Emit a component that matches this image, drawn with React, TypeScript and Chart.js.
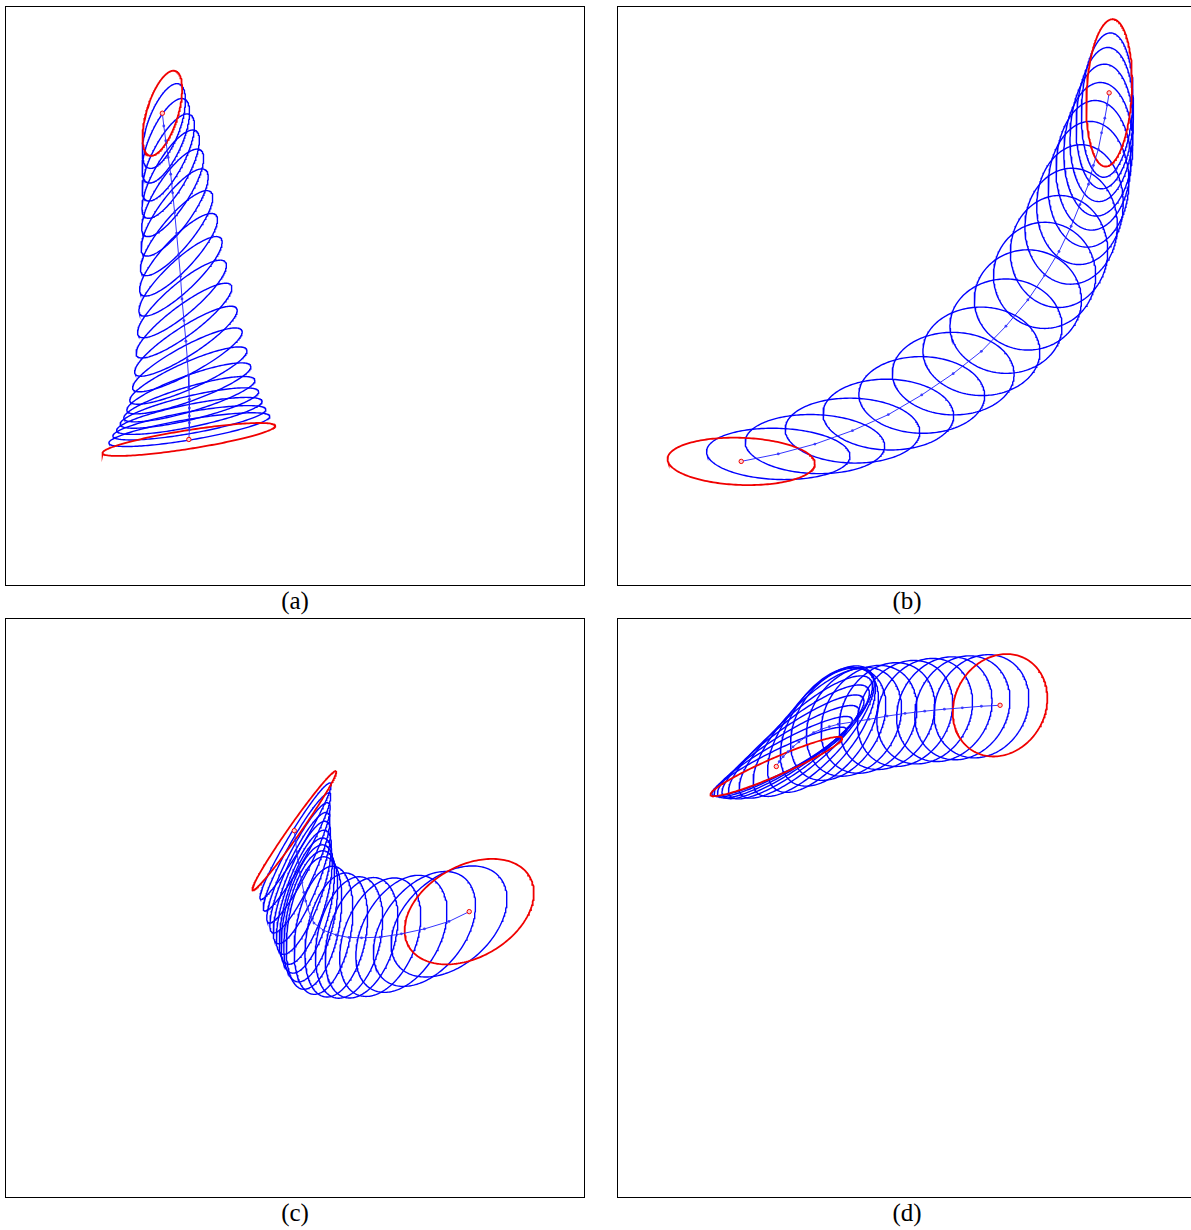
import React, { useEffect, useRef } from "react";
import { Chart, registerables } from "chart.js";

Chart.register(...registerables);

const SIZE = 578;

// ---- Panel (a): ellipse centres, semi-axes and orientation (deg, counter-clockwise) ----
const aCx = [154, 155.5, 157.5, 160, 162.5, 164.5, 166.5, 168.5, 170.5, 172.5, 174, 176, 178, 179.5, 180.5, 181, 181.5, 181.5, 181.5, 181.5, 181.5, 181];
const aCy = [103, 116, 131, 148, 165, 184, 204, 225, 247, 269, 292, 314, 335, 354, 370, 383, 394, 403, 411, 418, 425, 435];
const aAx = [45, 45.5, 46.5, 49, 51, 52, 53.5, 54.5, 55.5, 56.5, 58, 60, 61.5, 63, 65, 67, 69.5, 72.5, 75.5, 79, 83, 89];
const aAy = [16, 16.5, 16.5, 16.5, 16.5, 16.5, 16.5, 16, 16, 15.5, 15.5, 15, 14.5, 14, 13.5, 13, 12.5, 12, 11.5, 11, 10.5, 9.5];
const aAng = [73, 70, 66, 63, 60, 57, 54, 50.5, 47, 43.5, 40.5, 37, 33, 28.5, 24, 20, 16.5, 13.5, 11.5, 10, 9.5, 9];

// ---- Panel (b) ----
const bCx = [120.3, 158, 195.3, 233.5, 270, 304, 336, 364.7, 389.7, 412, 429, 443.7, 456, 465, 473.7, 478.7, 483.7, 487, 490.3, 492.7, 494.7];
const bCy = [457.3, 449.7, 439.7, 426, 409.7, 389.7, 368, 345.3, 319.7, 293, 268, 243.7, 218, 196, 175.3, 156, 139.7, 123, 108, 94.7, 82.3];
const bAx = [75, 73, 71, 68.5, 66.5, 64, 62, 59.5, 57, 54.5, 52, 49.5, 47, 44, 41, 38, 35, 32, 29, 26, 23];
const bAy = [24, 26, 30, 33, 36, 39, 42, 45, 48, 51, 54, 57, 59, 61, 64, 66, 68, 70, 72, 73.5, 75];
const bAng = [-2, -2, -2, -1.5, -1.5, -1, -1, -1, -1, -1.5, -1.5, -2, -2, -2, -2.5, -2.5, -2.5, -3, -3, -3, -3];

// ---- Panel (c) ----
const cCx = [288.3, 289.5, 291, 292.5, 294, 296, 298, 300, 302, 305, 308.3, 318, 331, 344, 356.7, 375.7, 397.3, 420.7, 445.7, 466.3];
const cCy = [210.3, 221, 232, 243, 253, 263, 273, 282, 290, 297.5, 304.3, 311.7, 316.5, 319, 319.3, 318.7, 315.3, 310.3, 302.7, 292.7];
const cAx = [74, 69, 68.5, 68.2, 67.1, 66.9, 66.7, 66.8, 67.2, 68, 68.3, 66, 64, 63, 63, 63, 64, 66, 68.5, 71];
const cAy = [6, 8, 10, 12, 14, 16, 18, 20, 22, 24, 26, 28, 30, 32, 34, 37, 40, 42, 44.5, 46.5];
const cAng = [55, 59, 61, 63.5, 65.5, 68, 70.5, 73.5, 75.5, 78, 80, 80, 79, 77, 74, 69, 62, 53, 42, 30];

// ---- Panel (d) ----
const dCx = [156, 159, 163, 168, 173, 179, 186, 194, 202, 210, 219, 235, 250.3, 268.7, 287, 307, 327, 345.3, 364.7, 383.7];
const dCy = [145, 140, 135, 130, 125, 120, 115, 110.5, 107, 104.5, 102, 99.5, 97, 93.7, 91, 88.7, 86.7, 85.3, 83.7, 82.7];
const dAx = [73, 76, 80, 84, 87, 89, 88, 84, 77, 68, 62, 59, 58, 57, 56.5, 56, 55.5, 55, 54.5, 54];
const dAy = [9, 12, 15, 18, 21, 24, 27, 31, 35, 39, 42, 44, 45, 45.5, 45.5, 46, 46, 46, 46, 46];
const dAng = [23.5, 26, 29, 32, 35, 38, 42, 47, 52, 56, 58, 59, 59, 60, 60, 60, 60, 60, 60, 60];

const CAPTIONS = ["(a)", "(b)", "(c)", "(d)"];

type Panel = { cx: number[]; cy: number[]; ax: number[]; ay: number[]; ang: number[] };

const PANELS: Panel[] = [
  { cx: aCx, cy: aCy, ax: aAx, ay: aAy, ang: aAng },
  { cx: bCx, cy: bCy, ax: bAx, ay: bAy, ang: bAng },
  { cx: cCx, cy: cCy, ax: cAx, ay: cAy, ang: cAng },
  { cx: dCx, cy: dCy, ax: dAx, ay: dAy, ang: dAng },
];

const BLUE = "#0000ff";
const RED = "#f00000";

function ellipsePoints(cx: number, cy: number, ax: number, ay: number, angDeg: number) {
  const pts: { x: number; y: number }[] = [];
  const th = (angDeg * Math.PI) / 180;
  const c = Math.cos(th);
  const s = Math.sin(th);
  const n = 200;
  for (let i = 0; i <= n; i++) {
    const t = (i / n) * 2 * Math.PI;
    const u = ax * Math.cos(t);
    const v = ay * Math.sin(t);
    pts.push({ x: cx + u * c - v * s, y: cy - (u * s + v * c) });
  }
  return pts;
}

function EllipseChart({ panel }: { panel: Panel }) {
  const ref = useRef<HTMLCanvasElement | null>(null);
  useEffect(() => {
    if (!ref.current) return;
    const n = panel.cx.length;
    const datasets: any[] = [];
    const centres = panel.cx.map((x, i) => ({ x, y: panel.cy[i] }));
    const isEnd = (i: number) => i === 0 || i === n - 1;
    datasets.push({
      data: centres,
      showLine: true,
      borderColor: "rgba(30,30,255,0.9)",
      borderWidth: 1,
      pointRadius: centres.map((_, i) => (isEnd(i) ? 2.2 : 1.4)),
      pointBackgroundColor: centres.map((_, i) => (isEnd(i) ? "#ffd0d0" : "rgba(50,50,255,0.9)")),
      pointBorderColor: centres.map((_, i) => (isEnd(i) ? RED : "rgba(50,50,255,0.9)")),
      pointBorderWidth: centres.map((_, i) => (isEnd(i) ? 1 : 0)),
      order: 0,
    });
    for (let i = 0; i < n; i++) {
      const end = isEnd(i);
      datasets.push({
        data: ellipsePoints(panel.cx[i], panel.cy[i], panel.ax[i], panel.ay[i], panel.ang[i]),
        showLine: true,
        borderColor: end ? RED : BLUE,
        borderWidth: end ? 1.8 : 1.4,
        pointRadius: 0,
        fill: false,
        tension: 0,
        order: end ? 1 : 2,
      });
    }
    const chart = new Chart(ref.current, {
      type: "scatter",
      data: { datasets },
      options: {
        animation: false,
        responsive: false,
        maintainAspectRatio: false,
        events: [],
        layout: { padding: 0 },
        plugins: { legend: { display: false }, tooltip: { enabled: false } },
        scales: {
          x: { type: "linear", min: 0, max: SIZE, display: false },
          y: { type: "linear", min: 0, max: SIZE, reverse: true, display: false },
        },
      },
    });
    return () => chart.destroy();
  }, [panel]);
  return <canvas ref={ref} width={SIZE} height={SIZE} style={{ display: "block", width: SIZE, height: SIZE }} />;
}

const LEFTS = [5, 617, 5, 617];
const TOPS = [6, 6, 618, 618];

export default function App() {
  return (
    <div style={{ position: "absolute", left: 0, top: 0, width: 1191, height: 1230, overflow: "hidden", background: "#fff" }}>
      {PANELS.map((p, i) => (
        <React.Fragment key={i}>
          <div
            style={{
              position: "absolute",
              left: LEFTS[i],
              top: TOPS[i],
              width: SIZE,
              height: SIZE,
              border: "1px solid #000",
            }}
          >
            <EllipseChart panel={p} />
          </div>
          <div
            style={{
              position: "absolute",
              left: LEFTS[i],
              top: TOPS[i] + SIZE + 2,
              width: SIZE + 2,
              height: 30,
              lineHeight: "30px",
              textAlign: "center",
              fontFamily: "'Liberation Serif', 'DejaVu Serif', serif",
              fontSize: 25,
              color: "#000",
            }}
          >
            {CAPTIONS[i]}
          </div>
        </React.Fragment>
      ))}
    </div>
  );
}
